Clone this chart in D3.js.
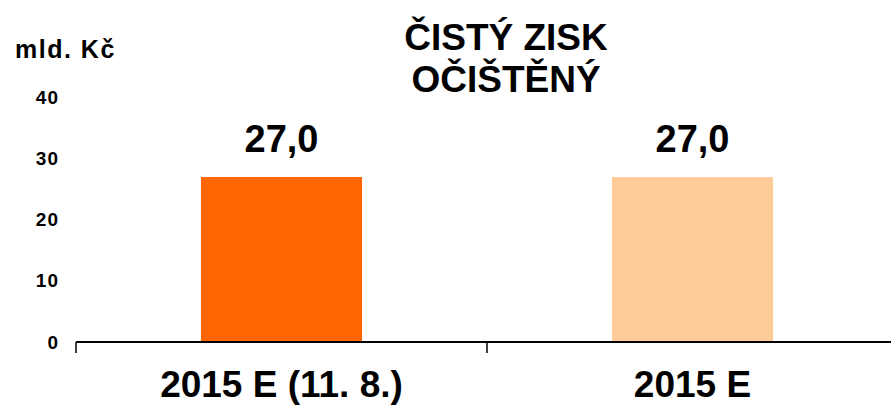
<!DOCTYPE html>
<html>
<head>
<meta charset="utf-8">
<script src="https://cdn.jsdelivr.net/npm/d3@7"></script>
<style>
  body { margin: 0; background: #fff; }
  svg { display: block; font-family: "Liberation Sans", Arial, sans-serif; font-weight: bold; }
</style>
</head>
<body>
<svg id="chart"></svg>
<script>
// chart data
const categories = ["2015 E (11. 8.)", "2015 E"];
const values = [27.0, 27.0];
const barColors = ["#FF6600", "#FFCC99"];
const yTicks = [0, 10, 20, 30, 40];
const titleLines = ["ČISTÝ ZISK", "OČIŠTĚNÝ"];
const unitLabel = "mld. Kč";

const width = 891;
const height = 405;
const marginLeft = 76;
const baseY = 342;
const topY = 97.6;

const svg = d3.select("#chart")
  .attr("width", width)
  .attr("height", height);

const x = d3.scaleBand()
  .domain(categories)
  .range([marginLeft, marginLeft + 2 * 411])
  .padding(0);

const y = d3.scaleLinear()
  .domain([0, 40])
  .range([baseY, topY]);

const fmt = v => d3.format(".1f")(v).replace(".", ",");

// y axis labels only (no line, no ticks)
svg.append("g")
  .attr("transform", `translate(${marginLeft - 17},0)`)
  .call(d3.axisLeft(y).tickValues(yTicks).tickSize(0).tickPadding(0))
  .call(g => g.select(".domain").remove())
  .selectAll("text")
  .attr("font-size", 19)
  .attr("letter-spacing", 1)
  .attr("font-family", "Liberation Sans, Arial, sans-serif")
  .attr("font-weight", "bold")
  .attr("fill", "#000");

// bars
const barW = x.bandwidth() * 0.392;
svg.append("g")
  .selectAll("rect")
  .data(categories)
  .join("rect")
  .attr("x", d => x(d) + x.bandwidth() / 2 - barW / 2)
  .attr("y", (d, i) => y(values[i]))
  .attr("width", barW)
  .attr("height", (d, i) => y(0) - y(values[i]))
  .attr("fill", (d, i) => barColors[i]);

// value labels
svg.append("g")
  .selectAll("text")
  .data(categories)
  .join("text")
  .attr("x", d => x(d) + x.bandwidth() / 2)
  .attr("y", (d, i) => y(values[i]) - 25)
  .attr("text-anchor", "middle")
  .attr("font-size", 38)
  .text((d, i) => fmt(values[i]));

// x axis: baseline plus boundary ticks
const xAxis = svg.append("g");
xAxis.append("line")
  .attr("x1", marginLeft).attr("x2", width)
  .attr("y1", baseY).attr("y2", baseY)
  .attr("stroke", "#000").attr("stroke-width", 2);
xAxis.selectAll(".tick")
  .data(categories.map(d => x(d)).concat([x.range()[1]]))
  .join("line")
  .attr("class", "tick")
  .attr("x1", d => d).attr("x2", d => d)
  .attr("y1", baseY).attr("y2", baseY + 11)
  .attr("stroke", "#000").attr("stroke-width", 1.5);
xAxis.selectAll("text")
  .data(categories)
  .join("text")
  .attr("x", d => x(d) + x.bandwidth() / 2)
  .attr("y", 397)
  .attr("text-anchor", "middle")
  .attr("font-size", 37)
  .text(d => d);

// title
svg.append("g")
  .selectAll("text")
  .data(titleLines)
  .join("text")
  .attr("x", 506)
  .attr("y", (d, i) => 50 + i * 42)
  .attr("text-anchor", "middle")
  .attr("font-size", 37)
  .text(d => d);

// unit label
svg.append("text")
  .attr("x", 15)
  .attr("y", 58)
  .attr("font-size", 25)
  .attr("letter-spacing", 1.5)
  .text(unitLabel);
</script>
</body>
</html>
